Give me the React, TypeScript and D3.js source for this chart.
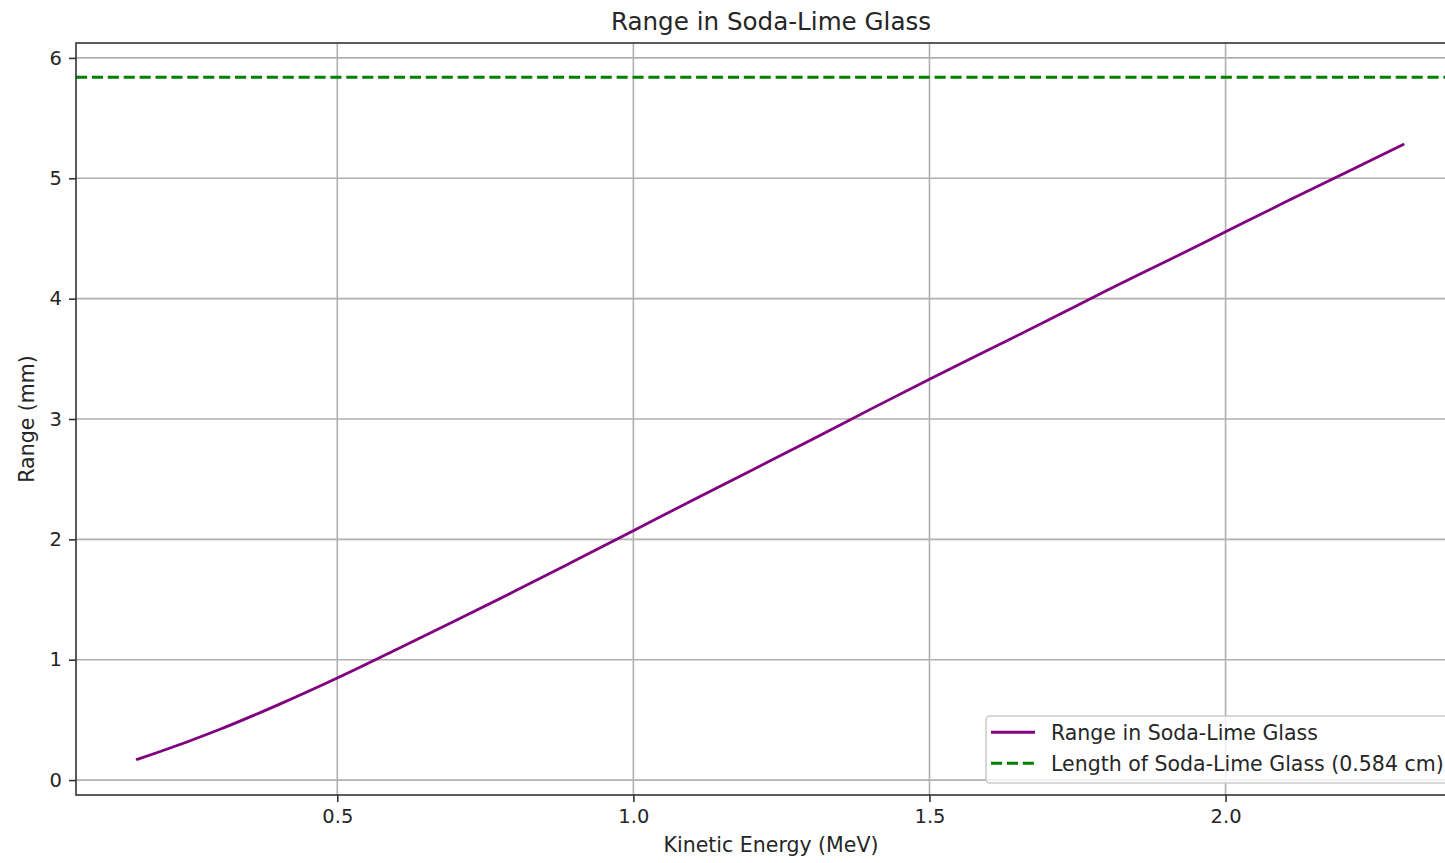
import * as d3 from "d3";
import React from "react";

// values
const energyMeV = [0.162, 0.2, 0.3, 0.4, 0.5, 0.6, 0.7, 0.8, 0.9, 1.0, 1.1, 1.2, 1.3, 1.4, 1.5, 1.6, 1.7, 1.8, 1.9, 2.0, 2.1, 2.2, 2.3];
const rangeMm = [0.172, 0.235, 0.418, 0.625, 0.848, 1.085, 1.325, 1.57, 1.82, 2.072, 2.325, 2.575, 2.825, 3.08, 3.33, 3.575, 3.82, 4.07, 4.31, 4.555, 4.8, 5.04, 5.28];
const glassLengthMm = [5.84];
const xTicks = [0.5, 1.0, 1.5, 2.0];
const yTicks = [0, 1, 2, 3, 4, 5, 6];
const legendLabels = ["Range in Soda-Lime Glass", "Length of Soda-Lime Glass (0.584 cm)"];

const W = 1445;
const H = 863;
const FONT = "DejaVu Sans, sans-serif";
const TEXT = "#262626";

const App = () => {
    const ref = React.useRef<SVGSVGElement>(null);

    React.useEffect(() => {
        const svg = d3.select(ref.current);
        svg.selectAll("*").remove();

        const left = 76, top = 43, bottom = 795, right = 1466;
        const x = d3.scaleLinear().domain([0.0588, 2.406]).range([left, right]);
        const y = d3.scaleLinear().domain([-0.124, 6.124]).range([bottom, top]);

        // grid
        const grid = svg.append("g");
        grid.selectAll(".vgrid")
            .data(xTicks)
            .enter()
            .append("line")
            .attr("x1", d => x(d)).attr("x2", d => x(d))
            .attr("y1", top).attr("y2", bottom)
            .attr("stroke", "#b0b0b0").attr("stroke-width", 1.6);
        grid.selectAll(".hgrid")
            .data(yTicks)
            .enter()
            .append("line")
            .attr("x1", left).attr("x2", right)
            .attr("y1", d => y(d)).attr("y2", d => y(d))
            .attr("stroke", "#b0b0b0").attr("stroke-width", 1.6);

        // dashed glass length line
        svg.selectAll(".glass")
            .data(glassLengthMm)
            .enter()
            .append("line")
            .attr("x1", left).attr("x2", right)
            .attr("y1", d => y(d)).attr("y2", d => y(d))
            .attr("stroke", "#008000")
            .attr("stroke-width", 3)
            .attr("stroke-dasharray", "11.1,4.8");

        // range curve
        const pts = energyMeV.map((e, i) => [e, rangeMm[i]] as [number, number]);
        const line = d3.line<[number, number]>()
            .x(d => x(d[0]))
            .y(d => y(d[1]))
            .curve(d3.curveMonotoneX);
        svg.append("path")
            .datum(pts)
            .attr("d", line)
            .attr("fill", "none")
            .attr("stroke", "#800080")
            .attr("stroke-width", 2.8)
            .attr("stroke-linecap", "round");

        // axes
        const xAxis = d3.axisBottom(x).tickValues(xTicks).tickFormat(d3.format(".1f")).tickSize(7).tickPadding(7);
        const yAxis = d3.axisLeft(y).tickValues(yTicks).tickFormat(d3.format("d")).tickSize(7).tickPadding(7);
        const gx = svg.append("g").attr("transform", "translate(0," + bottom + ")").call(xAxis);
        const gy = svg.append("g").attr("transform", "translate(" + left + ",0)").call(yAxis);
        [gx, gy].forEach(g => {
            g.select(".domain").remove();
            g.selectAll("line").attr("stroke", "#333").attr("stroke-width", 1.6);
            g.selectAll("text").attr("fill", TEXT).style("font-family", FONT).style("font-size", "19.5px");
        });

        // spines
        svg.append("rect")
            .attr("x", left).attr("y", top)
            .attr("width", right - left).attr("height", bottom - top)
            .attr("fill", "none").attr("stroke", "#333").attr("stroke-width", 1.6);

        // titles
        svg.append("text")
            .attr("x", (left + right) / 2).attr("y", 29.5)
            .attr("text-anchor", "middle")
            .attr("fill", TEXT)
            .style("font-family", FONT).style("font-size", "24.6px")
            .text("Range in Soda-Lime Glass");
        svg.append("text")
            .attr("x", (left + right) / 2).attr("y", 852)
            .attr("text-anchor", "middle")
            .attr("fill", TEXT)
            .style("font-family", FONT).style("font-size", "20.5px")
            .text("Kinetic Energy (MeV)");
        svg.append("text")
            .attr("transform", "translate(33.5," + (top + bottom) / 2 + ") rotate(-90)")
            .attr("text-anchor", "middle")
            .attr("fill", TEXT)
            .style("font-family", FONT).style("font-size", "20.5px")
            .text("Range (mm)");

        // legend
        const lg = svg.append("g");
        lg.append("rect")
            .attr("x", 986).attr("y", 716)
            .attr("width", 470).attr("height", 67)
            .attr("rx", 4)
            .attr("fill", "white").attr("fill-opacity", 0.8)
            .attr("stroke", "#cccccc").attr("stroke-width", 1.6);
        const rowsY = [732.3, 763.3];
        const styles = [
            { color: "#800080", dash: null },
            { color: "#008000", dash: "11.1,4.8" },
        ];
        legendLabels.forEach((label, i) => {
            const h = lg.append("line")
                .attr("x1", 991).attr("x2", 1035)
                .attr("y1", rowsY[i]).attr("y2", rowsY[i])
                .attr("stroke", styles[i].color)
                .attr("stroke-width", 3);
            if (styles[i].dash) h.attr("stroke-dasharray", styles[i].dash);
            lg.append("text")
                .attr("x", 1051).attr("y", rowsY[i])
                .attr("dy", "0.36em")
                .attr("fill", TEXT)
                .style("font-family", FONT).style("font-size", "20.5px")
                .text(label);
        });
    }, []);

    return (
        <svg
            ref={ref}
            width={W}
            height={H}
            style={{ position: "absolute", left: 0, top: 0, background: "white", display: "block" }}
        />
    );
};

export default App;
